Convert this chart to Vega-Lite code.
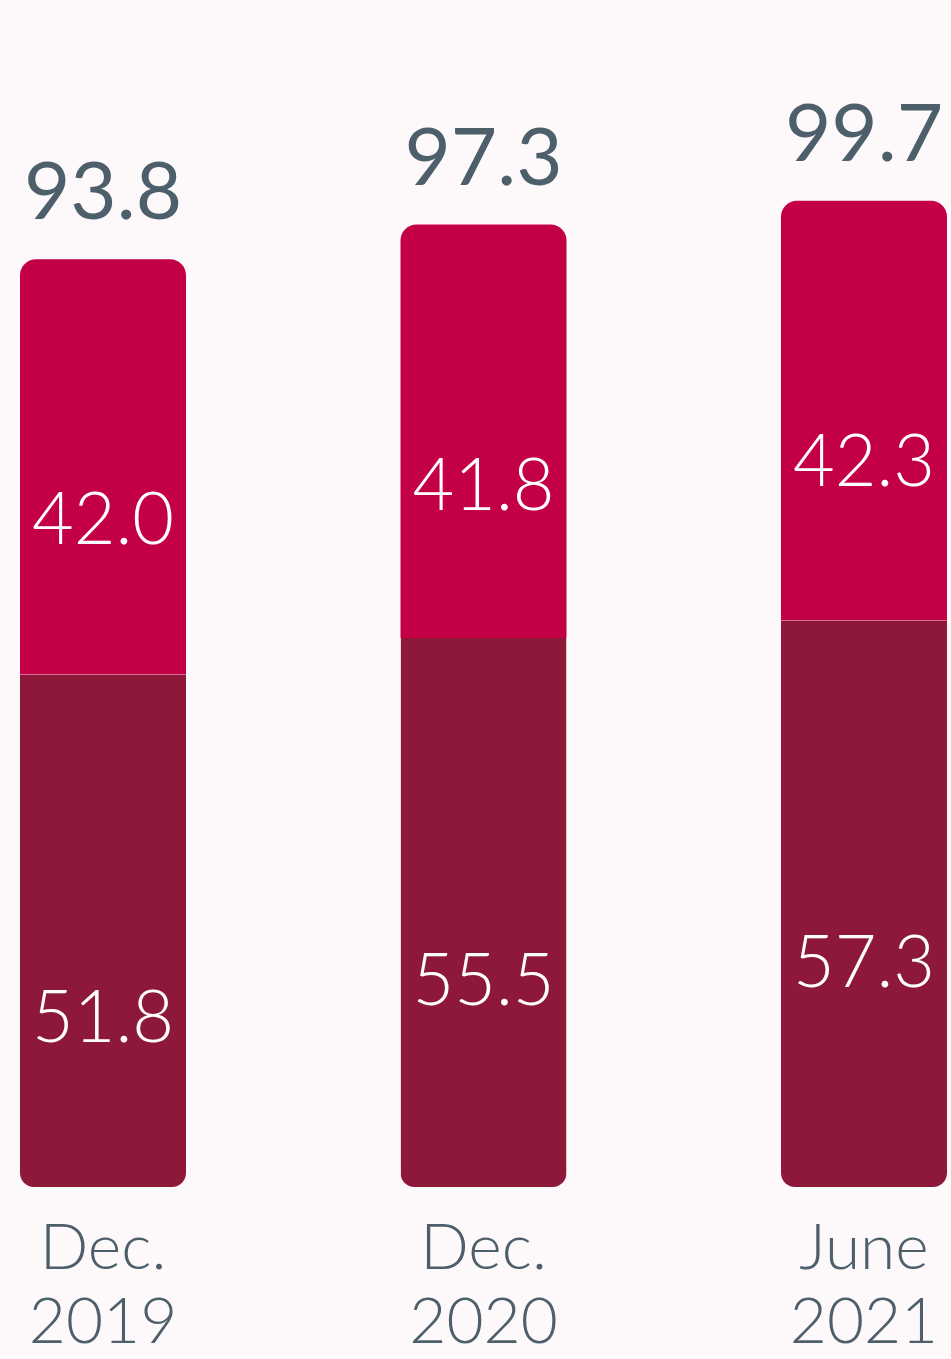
{
  "$schema": "https://vega.github.io/schema/vega-lite/v6.json",
  "width": 927,
  "height": 1187,
  "autosize": {"type": "none"},
  "padding": {"left": 20, "right": 4, "top": 0, "bottom": 172},
  "background": "#fdf9fa",
  "config": {"view": {"stroke": null}},
  "data": {
    "values": [
      {"period": "Dec. 2019", "lower": 51.8, "upper": 42.0, "total": 93.8},
      {"period": "Dec. 2020", "lower": 55.5, "upper": 41.8, "total": 97.3},
      {"period": "June 2021", "lower": 57.3, "upper": 42.3, "total": 99.7}
    ]
  },
  "encoding": {
    "x": {
      "field": "period",
      "type": "nominal",
      "sort": null,
      "scale": {"paddingInner": 0.5637, "paddingOuter": 0},
      "axis": {
        "title": null,
        "domain": false,
        "ticks": false,
        "labelAngle": 0,
        "labelExpr": "split(datum.label, ' ')",
        "labelFont": "Lato",
        "labelFontWeight": 300,
        "labelFontSize": 64,
        "labelLineHeight": 74,
        "labelColor": "#4E5F6C",
        "labelPadding": 30,
        "labelBaseline": "top"
      }
    }
  },
  "layer": [
    {
      "mark": {"type": "bar", "color": "#8D1839", "cornerRadiusBottomLeft": 14, "cornerRadiusBottomRight": 14},
      "encoding": {
        "y": {"field": "lower", "type": "quantitative", "scale": {"domain": [0, 115]}, "axis": null}
      }
    },
    {
      "mark": {"type": "bar", "color": "#C30045", "cornerRadiusTopLeft": 16, "cornerRadiusTopRight": 16},
      "encoding": {
        "y": {"field": "total", "type": "quantitative"},
        "y2": {"field": "lower"}
      }
    },
    {
      "mark": {"type": "text", "color": "#ffffff", "font": "Lato", "fontWeight": 300, "fontSize": 72, "baseline": "middle", "dy": 345},
      "encoding": {
        "y": {"field": "lower", "type": "quantitative"},
        "text": {"field": "lower", "type": "quantitative", "format": ".1f"}
      }
    },
    {
      "mark": {"type": "text", "color": "#ffffff", "font": "Lato", "fontWeight": 300, "fontSize": 72, "baseline": "middle", "dy": 263},
      "encoding": {
        "y": {"field": "total", "type": "quantitative"},
        "text": {"field": "upper", "type": "quantitative", "format": ".1f"}
      }
    },
    {
      "mark": {"type": "text", "color": "#4E5F6C", "font": "Lato", "fontWeight": 400, "fontSize": 80, "baseline": "alphabetic", "dy": -40},
      "encoding": {
        "y": {"field": "total", "type": "quantitative"},
        "text": {"field": "total", "type": "quantitative", "format": ".1f"}
      }
    }
  ]
}
